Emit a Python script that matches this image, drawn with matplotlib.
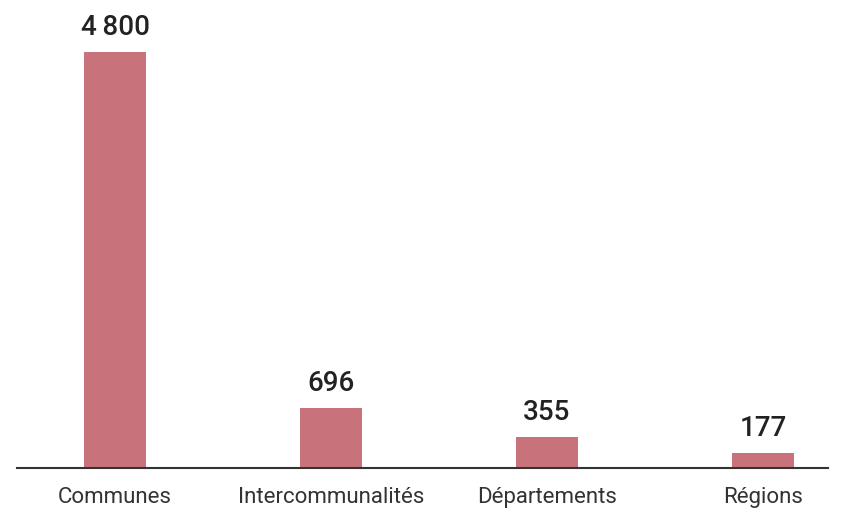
import matplotlib
matplotlib.use("Agg")
import matplotlib.pyplot as plt

categories = ["Communes", "Intercommunalités", "Départements", "Régions"]
values = [4800, 696, 355, 177]
value_labels = ["4\u2009800", "696", "355", "177"]

plt.rcParams['font.family'] = ['Roboto', 'DejaVu Sans']

fig = plt.figure(figsize=(8.42, 5.08), dpi=100)
ax = fig.add_axes([17/842, 1 - 468/508, (828 - 17)/842, 468/508])

x = list(range(len(categories)))
bars = ax.bar(x, values, width=0.283, color="#C8737B", zorder=2)

for xi, v, lab in zip(x, values, value_labels):
    ax.annotate(lab, (xi, v), xytext=(0, 8), textcoords="offset points",
                ha="center", va="bottom", fontsize=20, color="#222222",
                fontweight="medium")

ax.set_xlim(-0.454, 3.301)
ax.set_ylim(0, 5400)
ax.set_xticks(x)
ax.set_xticklabels(categories, fontsize=16, color="#333333")
ax.tick_params(axis="x", length=0, pad=13.5)
ax.set_yticks([])
for s in ["top", "right", "left"]:
    ax.spines[s].set_visible(False)
ax.spines["bottom"].set_color("#333333")
ax.spines["bottom"].set_linewidth(1.5)

fig.savefig("out.png", dpi=100)
